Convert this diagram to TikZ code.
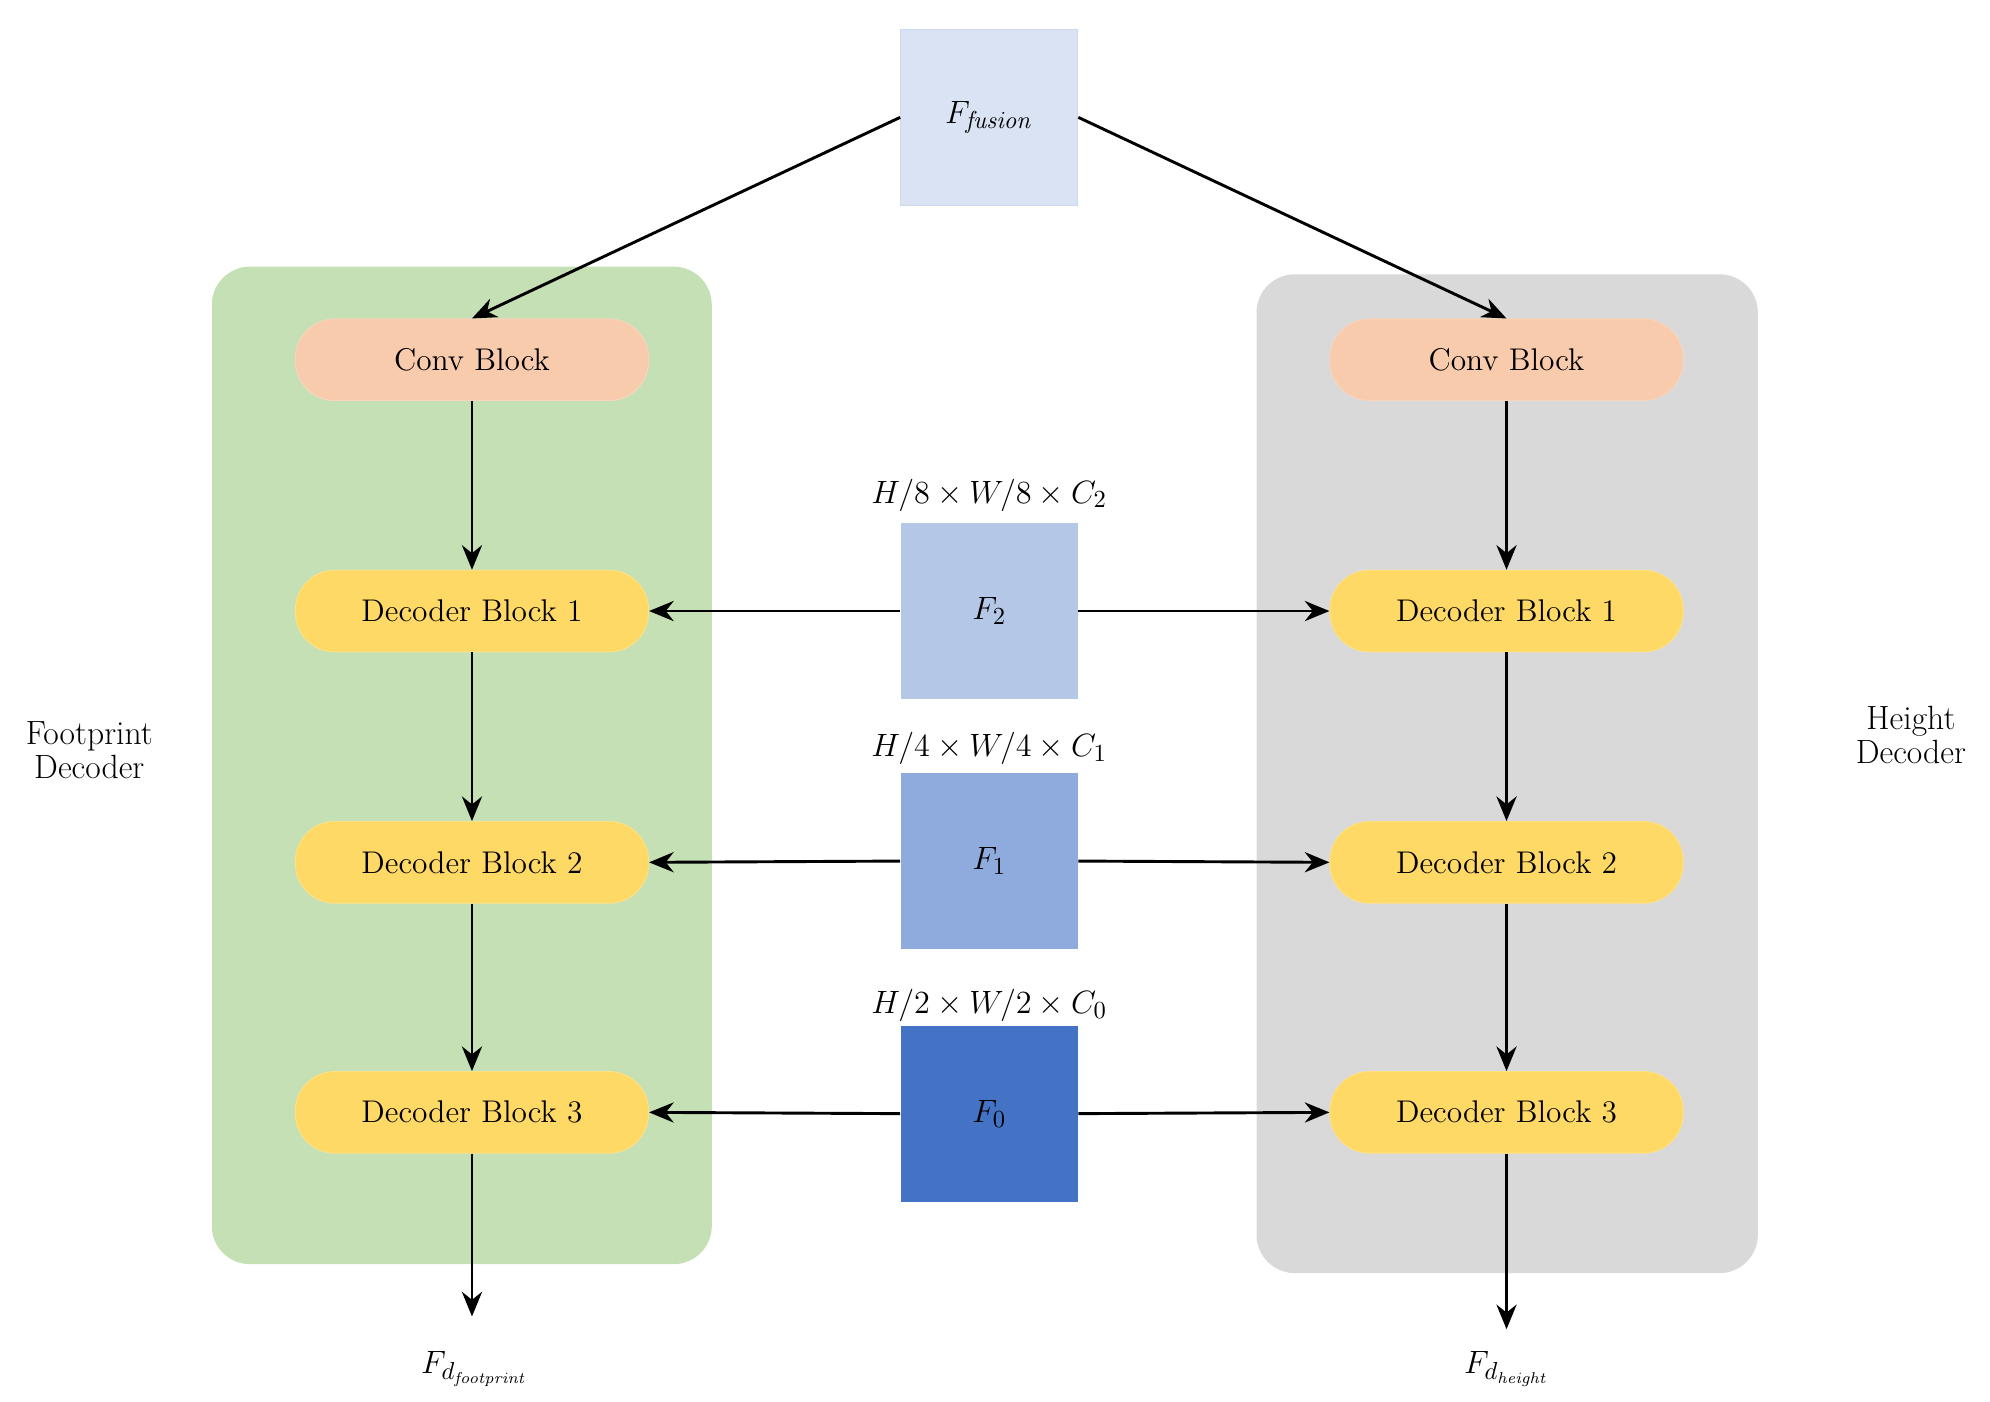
\documentclass[tikz,border=0pt]{standalone}
\usetikzlibrary{arrows.meta}
\begin{document}
\begin{tikzpicture}[x=0.02cm,y=-0.02cm,
  blk/.style={rounded corners=0.62cm,minimum width=5.54cm,minimum height=1.28cm,draw=#1!80!white,font=\fontsize{14}{16}\selectfont,inner sep=0},
  fb/.style={minimum width=2.78cm,minimum height=2.76cm,inner sep=0,font=\fontsize{15}{17}\selectfont},
  ar/.style={line width=1.3pt,-{Stealth[length=11pt,width=9pt]}},
  lab/.style={font=\fontsize{15}{18}\selectfont}]
\definecolor{cfus}{HTML}{DAE3F3}\definecolor{cf2}{HTML}{B4C7E7}\definecolor{cf1}{HTML}{8FAADC}\definecolor{cf0}{HTML}{4472C4}
\definecolor{cgreen}{HTML}{C5E0B4}\definecolor{cgray}{HTML}{D9D9D9}\definecolor{cconv}{HTML}{F8CBAD}\definecolor{cdec}{HTML}{FFD966}
\useasboundingbox (0,0) rectangle (1560,1099);
\fill[cgreen,rounded corners=0.6cm] (166,209) rectangle (558,991);
\fill[cgray,rounded corners=0.6cm] (985,215) rectangle (1378,998);
\node[fb,fill=cfus,draw=cf2!70!white] (fus) at (775.5,92) {$F_{\mathit{fusion}}$};
\node[fb,fill=cf2] (f2) at (775.5,479) {$F_2$};
\node[fb,fill=cf1] (f1) at (775.5,675) {$F_1$};
\node[fb,fill=cf0] (f0) at (775.5,873) {$F_0$};
\node[lab] at (775.5,388) {$H/8\times W/8\times C_2$};
\node[lab] at (775.5,587) {$H/4\times W/4\times C_1$};
\node[lab] at (775.5,788) {$H/2\times W/2\times C_0$};
\foreach \s/\x in {L/370,R/1181}{
  \node[blk=cconv,fill=cconv] (c\s) at (\x,282) {Conv Block};
  \node[blk=cdec,fill=cdec] (d1\s) at (\x,479) {Decoder Block 1};
  \node[blk=cdec,fill=cdec] (d2\s) at (\x,676) {Decoder Block 2};
  \node[blk=cdec,fill=cdec] (d3\s) at (\x,872) {Decoder Block 3};
  \draw[ar] (c\s) -- (d1\s); \draw[ar] (d1\s) -- (d2\s); \draw[ar] (d2\s) -- (d3\s);
}
\coordinate (oL) at (370,1032); \coordinate (oR) at (1181,1042);
\draw[ar] (d3L) -- (oL); \draw[ar] (d3R) -- (oR);
\node[lab] at (372,1073) {$F_{d_{\mathit{footprint}}}$};
\node[lab] at (1181,1073) {$F_{d_{\mathit{height}}}$};
\draw[ar] (fus.west) -- (cL.north); \draw[ar] (fus.east) -- (cR.north);
\foreach \i/\j in {f2/d1,f1/d2,f0/d3}{
  \draw[ar] (\i.west) -- (\j L.east); \draw[ar] (\i.east) -- (\j R.west);}
\node[lab,align=center] at (70,588) {Footprint\\[-3pt]Decoder};
\node[lab,align=center] at (1498,576) {Height\\[-3pt]Decoder};
\end{tikzpicture}
\end{document}
